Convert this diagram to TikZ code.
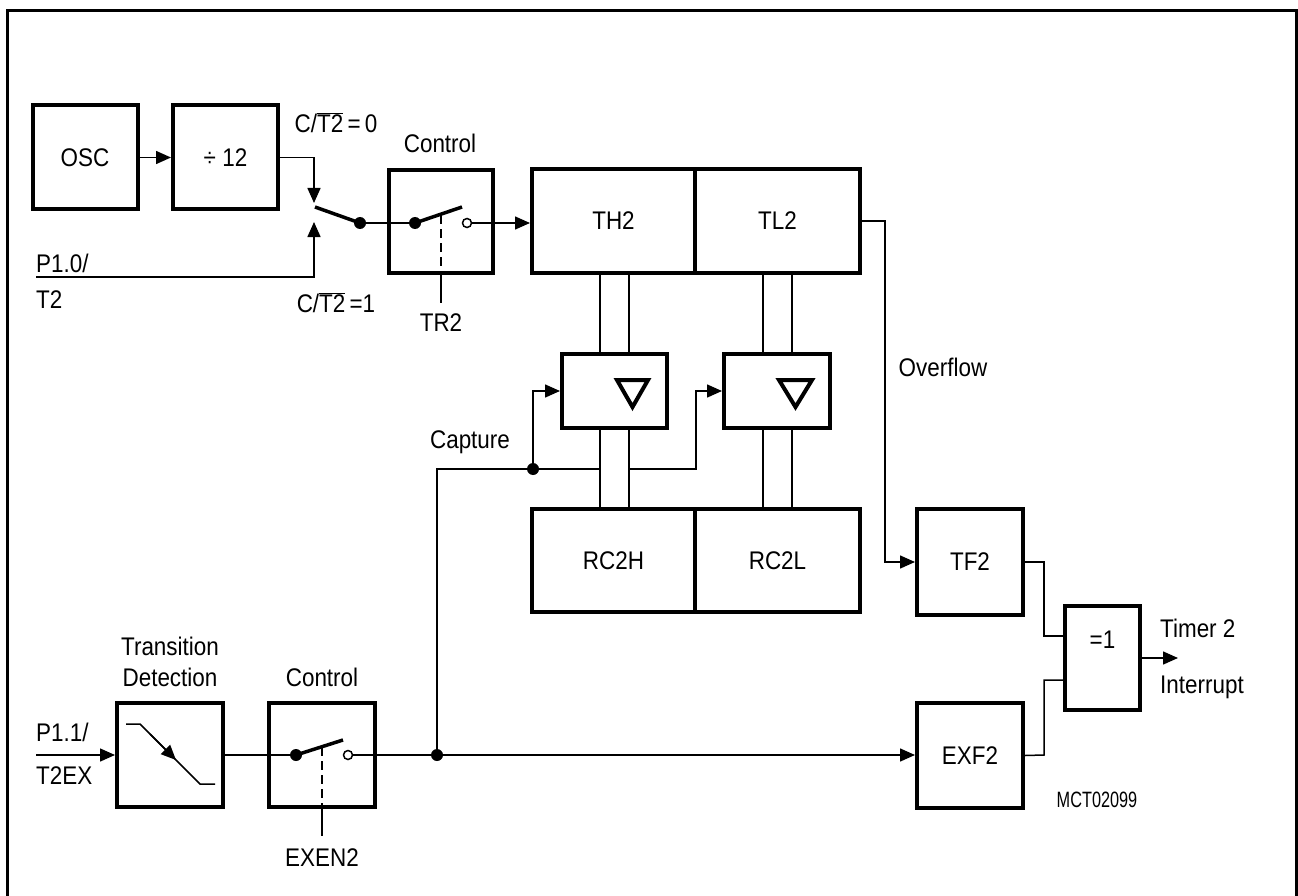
\documentclass[tikz,border=0pt]{standalone}
\usepackage{fontspec}
\setmainfont{Liberation Sans}[FakeStretch=0.88]
\usetikzlibrary{arrows.meta}
\newcommand\lblf{\fontsize{25.5}{30}\selectfont}
\newcommand\smallf{\fontsize{18.5}{21}\selectfont}
\begin{document}
\begin{tikzpicture}[x=1pt,y=-1pt,
  blk/.style={draw, line width=4pt, inner sep=0pt, font=\lblf},
  wire/.style={line width=1.5pt},
  arr/.style={wire, -{Triangle[length=15pt,width=13pt]}},
  lbl/.style={font=\lblf, inner sep=0pt},
  dotc/.style={circle, fill, inner sep=0pt, minimum size=12pt},
  opnc/.style={circle, draw, line width=1.5pt, fill=white, inner sep=0pt, minimum size=9pt},
  blade/.style={line width=3.5pt},
  dsh/.style={wire, dash pattern=on 9pt off 5pt},
]
\useasboundingbox (0,0) rectangle (1298,896);
\clip (0,0) rectangle (1298,896);
\draw[line width=3pt] (7.5,900) -- (7.5,10.5) -- (1296.5,10.5) -- (1296.5,900);

% blocks
\node[blk, minimum width=105pt, minimum height=104pt] (osc) at (85,157.5) {OSC};
\node[blk, minimum width=105pt, minimum height=104pt] (dvd) at (225.5,157.5) {÷ 12};
\node[blk, minimum width=104pt, minimum height=103pt] (ctlA) at (440.5,221.5) {};
\node[blk, minimum width=163pt, minimum height=104pt] (th) at (613.5,221) {TH2};
\node[blk, minimum width=165pt, minimum height=104pt] (tl) at (777.5,221) {TL2};
\node[blk, minimum width=105pt, minimum height=74pt] (latA) at (614.5,391) {};
\node[blk, minimum width=106pt, minimum height=74pt] (latB) at (777,391) {};
\node[blk, minimum width=163pt, minimum height=103pt] (rch) at (613.5,560.5) {RC2H};
\node[blk, minimum width=165pt, minimum height=103pt] (rcl) at (777.5,560.5) {RC2L};
\node[blk, minimum width=106pt, minimum height=106pt] (tf) at (970,562) {TF2};
\node[blk, minimum width=106pt, minimum height=105pt] (exf) at (970,755.5) {EXF2};
\node[blk, minimum width=75pt, minimum height=104pt] (xor) at (1102.5,658) {};
\node[lbl] at (1102.5,640) {=1};
\node[blk, minimum width=106pt, minimum height=104pt] (td) at (170,755) {};
\node[blk, minimum width=106pt, minimum height=104pt] (ctlB) at (322,755) {};

% latch triangles
\draw[line width=4pt, line join=miter] (617,380) -- (648,380) -- (632.5,407) -- cycle;
\draw[line width=4pt, line join=miter] (779,380) -- (812,380) -- (795.5,407) -- cycle;

% oscillator path and selector switch
\coordinate (swA) at (314,203);
\coordinate (p10) at (36,277);
\coordinate (swB) at (314,222);
\coordinate (bl) at (315,207);
\draw[arr] (osc.east) -- (dvd.west);
\draw[arr] (dvd.east) -| (swA);
\draw[arr] (p10) -| (swB);
\node[dotc] (pv) at (360,223) {};
\draw[blade] (bl) -- (pv.center);

% control switch TR2
\node[dotc] (cA) at (415,223) {};
\node[opnc] (oA) at (467,223) {};
\coordinate (bA) at (462,207);
\coordinate (dA) at (441,215);
\coordinate (tA) at (441,303);
\draw[wire] (pv) -- (cA);
\draw[blade] (cA.center) -- (bA);
\draw[arr] (oA) -- (oA -| th.west);
\draw[dsh] (dA) -- (dA |- ctlA.south);
\draw[wire] (dA |- ctlA.south) -- (tA);

% bus lines
\foreach \bx in {600,629} {
  \draw[wire] (th.south -| \bx,0) -- (latA.north -| \bx,0);
  \draw[wire] (latA.south -| \bx,0) -- (rch.north -| \bx,0);
}
\foreach \bx in {763,792} {
  \draw[wire] (tl.south -| \bx,0) -- (latB.north -| \bx,0);
  \draw[wire] (latB.south -| \bx,0) -- (rcl.north -| \bx,0);
}

% transition detection symbol
\draw[wire] (126,724) -- (140,724) -- (200,784) -- (215,784);
\draw[arr] (150,734) -- (176,760);

% external input path
\coordinate (p11) at (36,755);
\draw[arr] (p11) -- (td.west);
\node[dotc] (cB) at (296,755) {};
\node[opnc] (oB) at (348,755) {};
\coordinate (bB) at (343,740);
\coordinate (dB) at (322,747);
\coordinate (tB) at (322,836);
\draw[wire] (td.east) -- (cB);
\draw[blade] (cB.center) -- (bB);
\draw[dsh] (dB) -- (dB |- ctlB.south);
\draw[wire] (dB |- ctlB.south) -- (tB);

\node[dotc] (jB) at (437,755) {};
\node[dotc] (jC) at (533,469) {};
\draw[wire] (oB) -- (jB);
\draw[arr] (jB) -- (jB -| exf.west);
\draw[wire] (jB.center) |- (jC.center);
\draw[wire] (jC.center) -- (600,469);
\draw[arr] (jC.center) |- (latA.west);
\coordinate (cp) at (629,469);
\coordinate (cq) at (696,469);
\draw[arr] (cp) -- (cq) |- (latB.west);

% overflow
\coordinate (ov) at (885,221);
\draw[arr] (tl.east) -- (ov) |- (tf.west);

% to xor
\coordinate (ja) at (1044,562);
\coordinate (jb) at (1044,755);
\draw[wire] (tf.east) -- (ja) |- ([yshift=22pt]xor.west);
\draw[wire] (exf.east) -- (jb) |- ([yshift=-22pt]xor.west);
\coordinate (out) at (1178,658);
\draw[arr] (xor.east) -- (out);

% labels
\node[lbl] at (336,123) {C/$\overline{\mbox{T2}}$\,=\,0};
\node[lbl] at (336,303) {C/$\overline{\mbox{T2}}$\,=1};
\node[lbl, anchor=west] at (36,263) {P1.0/};
\node[lbl, anchor=west] at (36,300) {T2};
\node[lbl] at (440,143) {Control};
\node[lbl] at (441,323) {TR2};
\node[lbl] at (470,442) {Capture};
\node[lbl] at (943,367) {Overflow};
\node[lbl] at (170,646) {Transition};
\node[lbl] at (170,677) {Detection};
\node[lbl] at (322,677) {Control};
\node[lbl, anchor=west] at (36,732) {P1.1/};
\node[lbl, anchor=west] at (36,776) {T2EX};
\node[lbl] at (322,858) {EXEN2};
\node[lbl, anchor=west] at (1160,628) {Timer 2};
\node[lbl, anchor=west] at (1160,687) {Interrupt};
\node[font=\smallf, inner sep=0pt] at (1097,800) {\scalebox{1}[1.2]{MCT02099}};
\end{tikzpicture}
\end{document}
